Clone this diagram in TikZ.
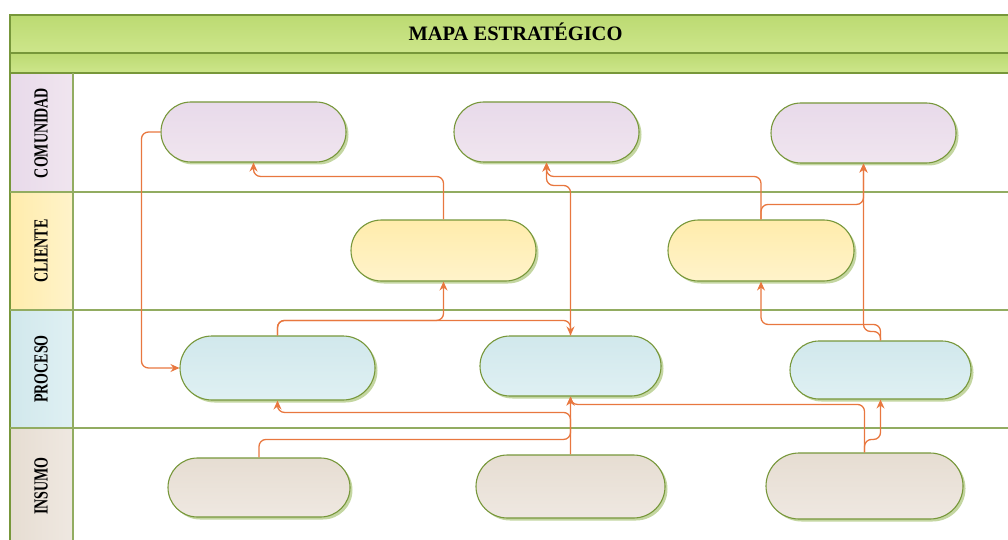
\documentclass[tikz,border=0pt]{standalone}
\usepackage{fontspec}
\setmainfont{Liberation Serif}
\usetikzlibrary{arrows.meta,positioning,shapes.misc,shadows}
\definecolor{frame}{HTML}{77973A}
\definecolor{titletop}{HTML}{BCDA72}
\definecolor{titlebot}{HTML}{CDE68B}
\definecolor{flowc}{HTML}{E8773F}
\definecolor{shadowgreen}{HTML}{B5CC8A}
\definecolor{comA}{HTML}{E8DAEA}\definecolor{comB}{HTML}{F0E5EF}
\definecolor{cliA}{HTML}{FFECAC}\definecolor{cliB}{HTML}{FFF3CA}
\definecolor{proA}{HTML}{D1E8EC}\definecolor{proB}{HTML}{DFF0F3}
\definecolor{insA}{HTML}{E6DDD2}\definecolor{insB}{HTML}{EFE8E1}
\begin{document}
\begin{tikzpicture}[x=1pt,y=-1pt,
    pill/.style={rounded rectangle,draw=frame,line width=1.1pt,inner sep=0pt,shading angle=120,
      drop shadow={shadow xshift=2.5pt,shadow yshift=-2.5pt,fill=shadowgreen,opacity=0.8}},
    flow/.style={draw=flowc,line width=1.3pt,rounded corners=7pt,-{Stealth[length=9pt,width=8pt]}},
    lanelabel/.style={font=\bfseries\fontsize{20}{24}\selectfont,rotate=90,inner sep=0pt}]
    \useasboundingbox (0,0) rectangle (1008,540);
    \begin{scope}
    \clip (0,0) rectangle (1008,540);
    \shade[top color=titletop,bottom color=titlebot] (10,15) rectangle (1030,53);
    \shade[top color=titletop,bottom color=titlebot] (10,53) rectangle (1030,73);
    \shade[left color=comA,right color=comB] (10,73) rectangle (73,192);
    \shade[left color=cliA,right color=cliB] (10,192) rectangle (73,310);
    \shade[left color=proA,right color=proB] (10,310) rectangle (73,428);
    \shade[left color=insA,right color=insB] (10,428) rectangle (73,560);
    \draw[frame,line width=1.6pt] (10,560) |- (1030,15);
    \draw[frame,line width=1.6pt] (10,53) -- (1030,53) (10,73) -- (1030,73);
    \draw[frame!80,line width=1.6pt] (10,192) -- (1030,192) (10,310) -- (1030,310) (10,428) -- (1030,428);
    \draw[frame!80,line width=1.6pt] (73,73) -- (73,560);
    \end{scope}

    \node[font=\bfseries\fontsize{20.5}{24}\selectfont] (title) at (515.5,32) {MAPA ESTRATÉGICO};
    \node[lanelabel] (comunidad) at (41,133) {\scalebox{0.7}[1]{COMUNIDAD}};
    \node[lanelabel] (cliente) at (41,251) {\scalebox{0.7}[1]{CLIENTE}};
    \node[lanelabel] (proceso) at (41,369) {\scalebox{0.7}[1]{PROCESO}};
    \node[lanelabel] (insumo) at (41,486) {\scalebox{0.7}[1]{INSUMO}};

    \node[pill,top color=comA,bottom color=comB,minimum width=185pt,minimum height=60pt] (com1) at (253.5,132) {};
    \node[pill,top color=comA,bottom color=comB,minimum width=185pt,minimum height=60pt] (com2) at (546.5,132) {};
    \node[pill,top color=comA,bottom color=comB,minimum width=185pt,minimum height=60pt] (com3) at (863.5,133) {};
    \node[pill,top color=cliA,bottom color=cliB,minimum width=185pt,minimum height=61pt] (cli1) at (443.5,250.5) {};
    \node[pill,top color=cliA,bottom color=cliB,minimum width=186pt,minimum height=61pt] (cli2) at (761,250.5) {};
    \node[pill,top color=proA,bottom color=proB,minimum width=195pt,minimum height=64pt] (pro1) at (277.5,368) {};
    \node[pill,top color=proA,bottom color=proB,minimum width=181pt,minimum height=60pt] (pro2) at (570.5,366) {};
    \node[pill,top color=proA,bottom color=proB,minimum width=181pt,minimum height=58pt] (pro3) at (880.5,370) {};
    \node[pill,top color=insA,bottom color=insB,minimum width=182pt,minimum height=59pt] (ins1) at (259,487.5) {};
    \node[pill,top color=insA,bottom color=insB,minimum width=189pt,minimum height=63pt] (ins2) at (570.5,486.5) {};
    \node[pill,top color=insA,bottom color=insB,minimum width=197pt,minimum height=66pt] (ins3) at (864.5,486) {};

    \draw[flow] (com1.west) -- ++(-19,0) |- (pro1.west);
    \draw[flow] (cli1.north) -- ++(0,-43) -| (com1.south);
    \draw[flow] (pro1.north) -- ++(0,-15) -| (cli1.south);
    \draw[flow] (pro1.north) -- ++(0,-15) -| (pro2.north);
    \draw[flow] (pro2.north) -- ++(0,-150) -| (com2.south);
    \draw[flow] (cli2.north) -- ++(0,-43) -| (com2.south);
    \draw[flow] (cli2.north) -- ++(0,-15) -| (com3.south);
    \draw[flow] (pro3.north) -- ++(0,-16) -| (cli2.south);
    \draw[flow] (pro3.north) -- ++(0,-9) -| (com3.south);
    \draw[flow] (ins1.north) -- ++(0,-18) -| (pro2.south);
    \draw[flow] (ins2.north) -- ++(0,-42) -| (pro1.south);
    \draw[flow] (ins3.north) -- ++(0,-48) -| (pro2.south);
    \draw[flow] (ins3.north) -- ++(0,-13) -| (pro3.south);
\end{tikzpicture}
\end{document}
